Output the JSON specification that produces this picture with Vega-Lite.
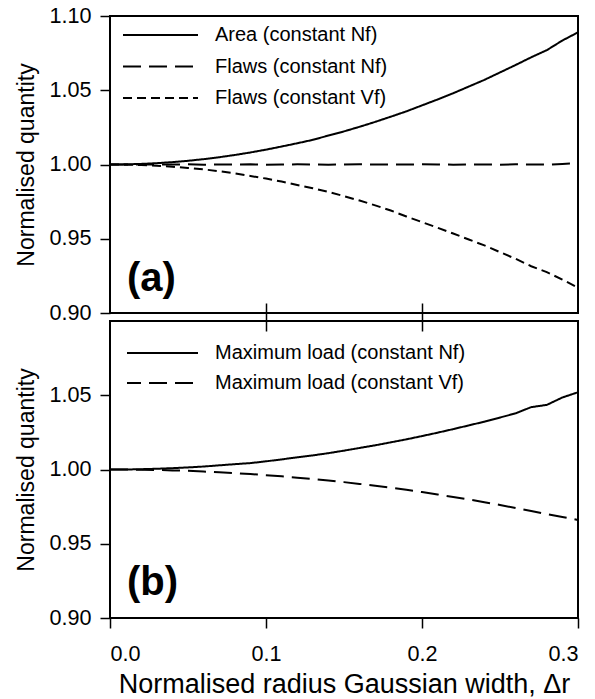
{
  "$schema": "https://vega.github.io/schema/vega-lite/v6.json",
  "padding": {"left": 14, "top": 4, "right": 2, "bottom": 2},
  "background": "white",
  "config": {
    "font": "Liberation Sans",
    "view": {"stroke": "black", "strokeWidth": 2},
    "axis": {"domain": false, "grid": false, "tickColor": "black", "tickWidth": 1.5, "labelColor": "black", "labelFontSize": 21.6, "titleColor": "black", "titleFontWeight": "normal", "labelFont": "Liberation Sans", "titleFont": "Liberation Sans"},
    "legend": {"labelFont": "Liberation Sans", "labelFontSize": 20, "labelColor": "black", "labelLimit": 0, "symbolType": "stroke", "symbolSize": 5625, "symbolStrokeWidth": 2, "symbolStrokeColor": "black", "padding": 0, "clipHeight": 30, "title": null, "orient": "top-left"}
  },
  "datasets": {
    "a": [
      {"x": 0.00, "Area (constant Nf)": 1.0000, "Flaws (constant Nf)": 1.0000, "Flaws (constant Vf)": 1.0000},
      {"x": 0.01, "Area (constant Nf)": 1.0001, "Flaws (constant Nf)": 1.0000, "Flaws (constant Vf)": 0.9999},
      {"x": 0.02, "Area (constant Nf)": 1.0004, "Flaws (constant Nf)": 1.0001, "Flaws (constant Vf)": 0.9996},
      {"x": 0.03, "Area (constant Nf)": 1.0009, "Flaws (constant Nf)": 0.9999, "Flaws (constant Vf)": 0.9991},
      {"x": 0.04, "Area (constant Nf)": 1.0016, "Flaws (constant Nf)": 1.0000, "Flaws (constant Vf)": 0.9985},
      {"x": 0.05, "Area (constant Nf)": 1.0025, "Flaws (constant Nf)": 1.0001, "Flaws (constant Vf)": 0.9977},
      {"x": 0.06, "Area (constant Nf)": 1.0036, "Flaws (constant Nf)": 0.9999, "Flaws (constant Vf)": 0.9967},
      {"x": 0.07, "Area (constant Nf)": 1.0049, "Flaws (constant Nf)": 1.0000, "Flaws (constant Vf)": 0.9955},
      {"x": 0.08, "Area (constant Nf)": 1.0064, "Flaws (constant Nf)": 1.0000, "Flaws (constant Vf)": 0.9941},
      {"x": 0.09, "Area (constant Nf)": 1.0081, "Flaws (constant Nf)": 1.0001, "Flaws (constant Vf)": 0.9923},
      {"x": 0.10, "Area (constant Nf)": 1.0100, "Flaws (constant Nf)": 0.9999, "Flaws (constant Vf)": 0.9905},
      {"x": 0.11, "Area (constant Nf)": 1.0121, "Flaws (constant Nf)": 1.0000, "Flaws (constant Vf)": 0.9885},
      {"x": 0.12, "Area (constant Nf)": 1.0143, "Flaws (constant Nf)": 1.0001, "Flaws (constant Vf)": 0.9862},
      {"x": 0.13, "Area (constant Nf)": 1.0166, "Flaws (constant Nf)": 1.0000, "Flaws (constant Vf)": 0.9840},
      {"x": 0.14, "Area (constant Nf)": 1.0195, "Flaws (constant Nf)": 0.9999, "Flaws (constant Vf)": 0.9815},
      {"x": 0.15, "Area (constant Nf)": 1.0223, "Flaws (constant Nf)": 1.0000, "Flaws (constant Vf)": 0.9787},
      {"x": 0.16, "Area (constant Nf)": 1.0254, "Flaws (constant Nf)": 1.0001, "Flaws (constant Vf)": 0.9757},
      {"x": 0.17, "Area (constant Nf)": 1.0287, "Flaws (constant Nf)": 1.0000, "Flaws (constant Vf)": 0.9725},
      {"x": 0.18, "Area (constant Nf)": 1.0322, "Flaws (constant Nf)": 0.9999, "Flaws (constant Vf)": 0.9690},
      {"x": 0.19, "Area (constant Nf)": 1.0358, "Flaws (constant Nf)": 1.0000, "Flaws (constant Vf)": 0.9650},
      {"x": 0.20, "Area (constant Nf)": 1.0398, "Flaws (constant Nf)": 1.0001, "Flaws (constant Vf)": 0.9612},
      {"x": 0.21, "Area (constant Nf)": 1.0438, "Flaws (constant Nf)": 1.0000, "Flaws (constant Vf)": 0.9574},
      {"x": 0.22, "Area (constant Nf)": 1.0480, "Flaws (constant Nf)": 0.9999, "Flaws (constant Vf)": 0.9535},
      {"x": 0.23, "Area (constant Nf)": 1.0525, "Flaws (constant Nf)": 1.0001, "Flaws (constant Vf)": 0.9495},
      {"x": 0.24, "Area (constant Nf)": 1.0570, "Flaws (constant Nf)": 1.0000, "Flaws (constant Vf)": 0.9455},
      {"x": 0.25, "Area (constant Nf)": 1.0620, "Flaws (constant Nf)": 0.9999, "Flaws (constant Vf)": 0.9410},
      {"x": 0.26, "Area (constant Nf)": 1.0670, "Flaws (constant Nf)": 1.0001, "Flaws (constant Vf)": 0.9365},
      {"x": 0.27, "Area (constant Nf)": 1.0722, "Flaws (constant Nf)": 1.0000, "Flaws (constant Vf)": 0.9315},
      {"x": 0.28, "Area (constant Nf)": 1.0770, "Flaws (constant Nf)": 0.9999, "Flaws (constant Vf)": 0.9275},
      {"x": 0.29, "Area (constant Nf)": 1.0835, "Flaws (constant Nf)": 1.0004, "Flaws (constant Vf)": 0.9225},
      {"x": 0.30, "Area (constant Nf)": 1.0890, "Flaws (constant Nf)": 1.0008, "Flaws (constant Vf)": 0.9170}
    ],
    "b": [
      {"x": 0.00, "Maximum load (constant Nf)": 1.0000, "Maximum load (constant Vf)": 1.0000},
      {"x": 0.01, "Maximum load (constant Nf)": 1.0000, "Maximum load (constant Vf)": 1.0000},
      {"x": 0.02, "Maximum load (constant Nf)": 1.0002, "Maximum load (constant Vf)": 0.9998},
      {"x": 0.03, "Maximum load (constant Nf)": 1.0005, "Maximum load (constant Vf)": 0.9997},
      {"x": 0.04, "Maximum load (constant Nf)": 1.0009, "Maximum load (constant Vf)": 0.9994},
      {"x": 0.05, "Maximum load (constant Nf)": 1.0014, "Maximum load (constant Vf)": 0.9991},
      {"x": 0.06, "Maximum load (constant Nf)": 1.0020, "Maximum load (constant Vf)": 0.9986},
      {"x": 0.07, "Maximum load (constant Nf)": 1.0028, "Maximum load (constant Vf)": 0.9981},
      {"x": 0.08, "Maximum load (constant Nf)": 1.0036, "Maximum load (constant Vf)": 0.9976},
      {"x": 0.09, "Maximum load (constant Nf)": 1.0043, "Maximum load (constant Vf)": 0.9969},
      {"x": 0.10, "Maximum load (constant Nf)": 1.0055, "Maximum load (constant Vf)": 0.9962},
      {"x": 0.11, "Maximum load (constant Nf)": 1.0068, "Maximum load (constant Vf)": 0.9954},
      {"x": 0.12, "Maximum load (constant Nf)": 1.0082, "Maximum load (constant Vf)": 0.9945},
      {"x": 0.13, "Maximum load (constant Nf)": 1.0095, "Maximum load (constant Vf)": 0.9936},
      {"x": 0.14, "Maximum load (constant Nf)": 1.0110, "Maximum load (constant Vf)": 0.9926},
      {"x": 0.15, "Maximum load (constant Nf)": 1.0127, "Maximum load (constant Vf)": 0.9915},
      {"x": 0.16, "Maximum load (constant Nf)": 1.0145, "Maximum load (constant Vf)": 0.9903},
      {"x": 0.17, "Maximum load (constant Nf)": 1.0163, "Maximum load (constant Vf)": 0.9890},
      {"x": 0.18, "Maximum load (constant Nf)": 1.0183, "Maximum load (constant Vf)": 0.9877},
      {"x": 0.19, "Maximum load (constant Nf)": 1.0203, "Maximum load (constant Vf)": 0.9863},
      {"x": 0.20, "Maximum load (constant Nf)": 1.0225, "Maximum load (constant Vf)": 0.9848},
      {"x": 0.21, "Maximum load (constant Nf)": 1.0248, "Maximum load (constant Vf)": 0.9832},
      {"x": 0.22, "Maximum load (constant Nf)": 1.0272, "Maximum load (constant Vf)": 0.9815},
      {"x": 0.23, "Maximum load (constant Nf)": 1.0297, "Maximum load (constant Vf)": 0.9798},
      {"x": 0.24, "Maximum load (constant Nf)": 1.0322, "Maximum load (constant Vf)": 0.9780},
      {"x": 0.25, "Maximum load (constant Nf)": 1.0350, "Maximum load (constant Vf)": 0.9761},
      {"x": 0.26, "Maximum load (constant Nf)": 1.0378, "Maximum load (constant Vf)": 0.9741},
      {"x": 0.27, "Maximum load (constant Nf)": 1.0420, "Maximum load (constant Vf)": 0.9721},
      {"x": 0.28, "Maximum load (constant Nf)": 1.0435, "Maximum load (constant Vf)": 0.9700},
      {"x": 0.29, "Maximum load (constant Nf)": 1.0485, "Maximum load (constant Vf)": 0.9680},
      {"x": 0.30, "Maximum load (constant Nf)": 1.0520, "Maximum load (constant Vf)": 0.9660}
    ],
    "labelA": [{"panel": "(a)"}],
    "labelB": [{"panel": "(b)"}]
  },
  "spacing": 8,
  "bounds": "flush",
  "resolve": {"scale": {"strokeDash": "independent", "x": "independent", "y": "independent"}, "legend": {"strokeDash": "independent"}},
  "vconcat": [
    {
      "width": 468,
      "height": 297,
      "layer": [
        {
          "data": {"name": "a"},
          "transform": [{"fold": ["Area (constant Nf)", "Flaws (constant Nf)", "Flaws (constant Vf)"], "as": ["series", "value"]}],
          "mark": {"type": "line", "color": "black", "strokeWidth": 2},
          "encoding": {
            "x": {"field": "x", "type": "quantitative", "scale": {"domain": [0, 0.3], "nice": false}, "axis": {"values": [0.1, 0.2], "labels": false, "tickSize": 28, "offset": -10, "title": null}},
            "y": {"field": "value", "type": "quantitative", "scale": {"domain": [0.9, 1.1], "nice": false, "zero": false}, "axis": {"values": [0.9, 0.95, 1.0, 1.05, 1.1], "format": ".2f", "tickSize": 10, "labelPadding": 9, "title": "Normalised quantity", "titleFontSize": 23, "titlePadding": 10}},
            "strokeDash": {"field": "series", "type": "nominal", "sort": null, "scale": {"domain": ["Area (constant Nf)", "Flaws (constant Nf)", "Flaws (constant Vf)"], "range": [[1, 0], [18, 8], [9, 5]]}, "legend": {"offset": 4, "symbolOffset": 8, "labelOffset": 16, "rowPadding": 1.5}}
          }
        },
        {
          "data": {"name": "labelA"},
          "mark": {"type": "text", "align": "left", "baseline": "alphabetic", "dx": 17, "dy": -22, "fontSize": 40, "fontWeight": "bold", "color": "black", "font": "Liberation Sans"},
          "encoding": {"x": {"datum": 0}, "y": {"datum": 0.9}, "text": {"field": "panel"}}
        }
      ]
    },
    {
      "width": 468,
      "height": 297,
      "layer": [
        {
          "data": {"name": "b"},
          "transform": [{"fold": ["Maximum load (constant Nf)", "Maximum load (constant Vf)"], "as": ["series", "value"]}],
          "mark": {"type": "line", "color": "black", "strokeWidth": 2},
          "encoding": {
            "x": {"field": "x", "type": "quantitative", "scale": {"domain": [0, 0.3], "nice": false}, "axis": {"values": [0, 0.1, 0.2, 0.3], "format": ".1f", "tickSize": 10, "labelPadding": 15, "title": "Normalised radius Gaussian width, Δr", "titleFontSize": 27, "titlePadding": 7}},
            "y": {"field": "value", "type": "quantitative", "scale": {"domain": [0.9, 1.1], "nice": false, "zero": false}, "axis": {"values": [0.9, 0.95, 1.0, 1.05], "format": ".2f", "tickSize": 10, "labelPadding": 9, "title": "Normalised quantity", "titleFontSize": 23, "titlePadding": 10}},
            "strokeDash": {"field": "series", "type": "nominal", "sort": null, "scale": {"domain": ["Maximum load (constant Nf)", "Maximum load (constant Vf)"], "range": [[1, 0], [18, 8]]}, "legend": {"offset": 17, "symbolOffset": -5, "labelOffset": 16, "rowPadding": 0}}
          }
        },
        {
          "data": {"name": "labelB"},
          "mark": {"type": "text", "align": "left", "baseline": "alphabetic", "dx": 17, "dy": -23, "fontSize": 40, "fontWeight": "bold", "color": "black", "font": "Liberation Sans"},
          "encoding": {"x": {"datum": 0}, "y": {"datum": 0.9}, "text": {"field": "panel"}}
        }
      ]
    }
  ]
}
